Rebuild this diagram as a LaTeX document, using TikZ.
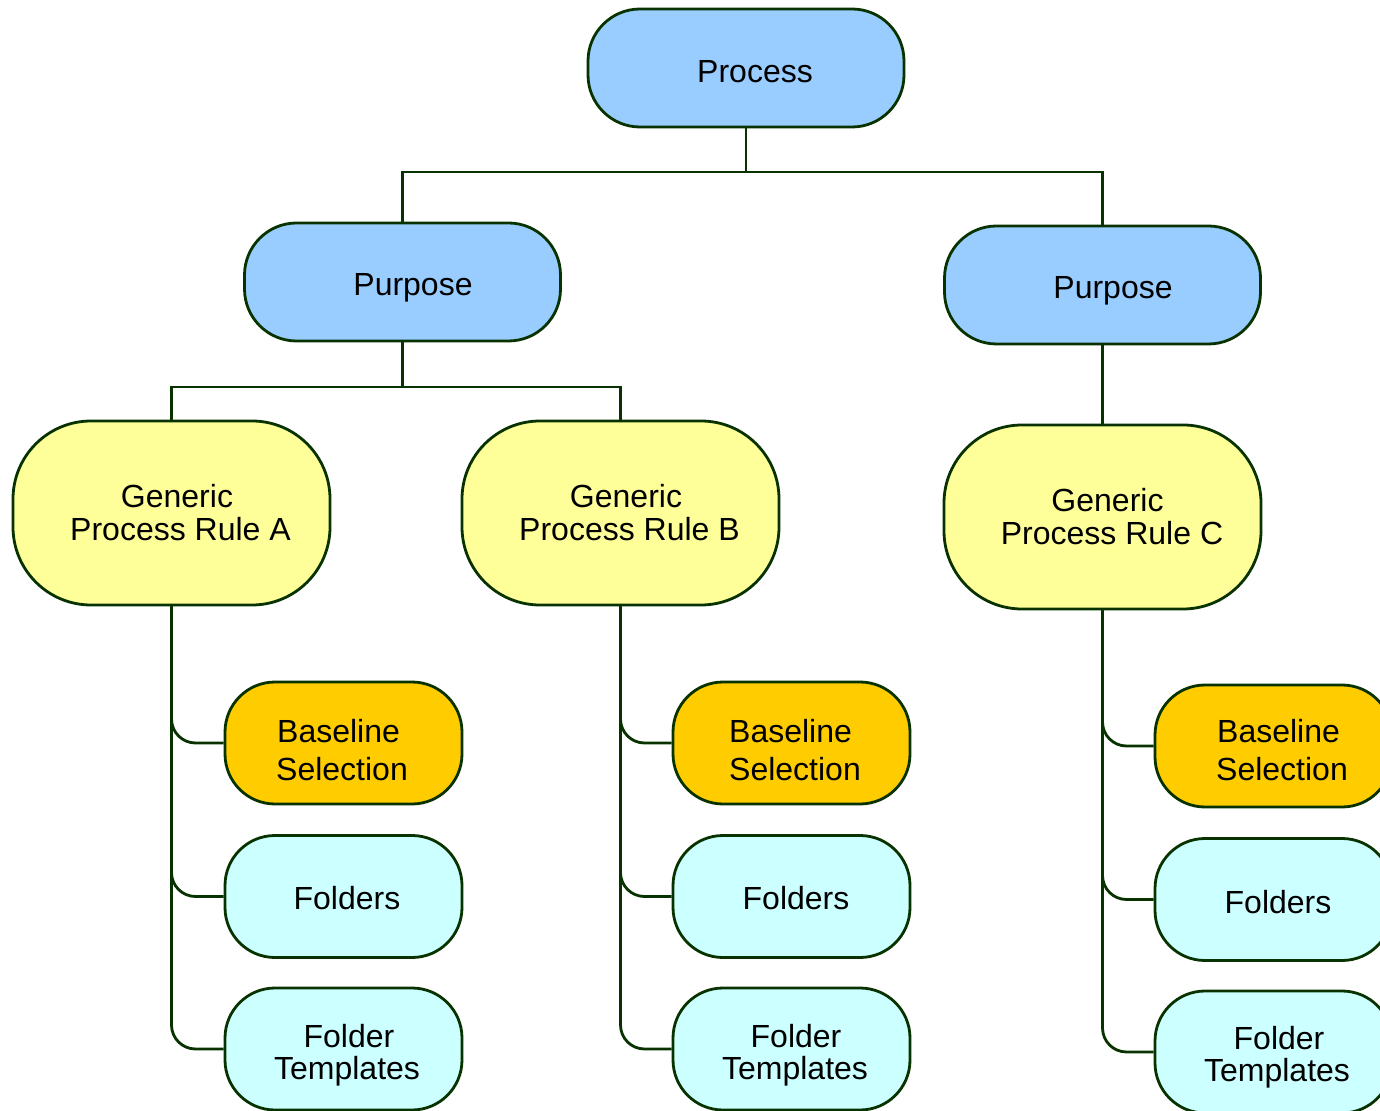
\documentclass[tikz,border=0pt]{standalone}
\usepackage{fontspec}
\setmainfont{Liberation Sans}
\begin{document}
\begin{tikzpicture}[x=0.5pt,y=-0.5pt]
\definecolor{edgegreen}{RGB}{8,51,0}
\definecolor{skyfill}{RGB}{153,204,255}
\definecolor{lemonfill}{RGB}{255,255,153}
\definecolor{amberfill}{RGB}{255,204,0}
\definecolor{aquafill}{RGB}{204,255,255}
\tikzset{
  box/.style={draw=edgegreen, line width=1.4pt, inner sep=0pt},
  topbox/.style={box, fill=skyfill, minimum width=158pt, minimum height=59pt, rounded corners=26pt},
  rulebox/.style={box, fill=lemonfill, minimum width=158.5pt, minimum height=92pt, rounded corners=39pt},
  leafbox/.style={box, minimum width=118.5pt, minimum height=61pt, rounded corners=25pt},
  basebox/.style={leafbox, fill=amberfill},
  foldbox/.style={leafbox, fill=aquafill},
  caption/.style={inner sep=0pt, align=center, font=\fontsize{16}{16.5}\selectfont},
  basecaption/.style={caption, align=left, font=\fontsize{16}{19}\selectfont},
  foldcaption/.style={caption, font=\fontsize{16}{16}\selectfont},
  link/.style={draw=edgegreen, line width=1.4pt},
  branch/.style={link, rounded corners=12pt}
}
\useasboundingbox (0,0) rectangle (1380,1111);

% hierarchy boxes
\node[topbox, label={[caption, xshift=4.5pt, yshift=-2pt]center:Process}] (proc) at (746,68) {};
\node[topbox, label={[caption, xshift=5.25pt, yshift=-3pt]center:Purpose}] (purL) at (402.5,282) {};
\node[topbox, label={[caption, xshift=5.25pt, yshift=-3pt]center:Purpose}] (purR) at (1102.5,285) {};

\node[rulebox, label={[caption, xshift=2.75pt]center:Generic\\\hspace*{3.5pt}Process Rule A}] (gA) at (171.5,513) {};
\node[rulebox, label={[caption, xshift=2.75pt]center:Generic\\\hspace*{3.5pt}Process Rule B}] (gB) at (620.5,513) {};
\node[rulebox, label={[caption, xshift=2.5pt]center:Generic\\\hspace*{4.5pt}Process Rule C}] (gC) at (1102.5,517) {};

% leaf boxes, one column per rule
\node[basebox, label={[basecaption, xshift=-0.75pt, yshift=-3.5pt]center:\hspace*{0.5pt}Baseline\\Selection}] (bA) at (343.5,743) {};
\node[foldbox, label={[foldcaption, xshift=1.75pt, yshift=-1pt]center:Folders}] (fA) at (343.5,896.5) {};
\node[foldbox, label={[foldcaption, xshift=1.75pt, yshift=-3pt]center:\hspace*{2pt}Folder\\Templates}] (tA) at (343.5,1049) {};

\node[basebox, label={[basecaption, xshift=1.75pt, yshift=-3.5pt]center:Baseline\\Selection}] (bB) at (791.5,743) {};
\node[foldbox, label={[foldcaption, xshift=2.25pt, yshift=-1pt]center:Folders}] (fB) at (791.5,896.5) {};
\node[foldbox, label={[foldcaption, xshift=1.75pt, yshift=-3pt]center:\hspace*{1pt}Folder\\Templates}] (tB) at (791.5,1049) {};

\node[basebox, label={[basecaption, xshift=4.25pt, yshift=-2pt]center:\hspace*{0.5pt}Baseline\\Selection}] (bC) at (1273.5,746) {};
\node[foldbox, label={[foldcaption, xshift=2.25pt, yshift=-1.5pt]center:Folders}] (fC) at (1273.5,899.5) {};
\node[foldbox, label={[foldcaption, xshift=1.75pt, yshift=-2.5pt]center:\hspace*{2pt}Folder\\Templates}] (tC) at (1273.5,1052) {};

% top-level connectors
\coordinate (j1) at (746,172);
\draw[link] (proc.south) -- (j1) -| (purL.north);
\draw[link] (j1) -| (purR.north);

\coordinate (j2) at (402.5,387);
\draw[link] (purL.south) -- (j2) -| (gA.north);
\draw[link] (j2) -| (gB.north);
\draw[link] (purR.south) -- (gC.north);

% rule-to-leaf branches
\foreach \g/\b/\f/\t in {gA/bA/fA/tA, gB/bB/fB/tB, gC/bC/fC/tC}{
  \draw[branch] (\g.south) |- (\b.west);
  \draw[branch] (\g.south) |- (\f.west);
  \draw[branch] (\g.south) |- (\t.west);
}
\end{tikzpicture}
\end{document}
